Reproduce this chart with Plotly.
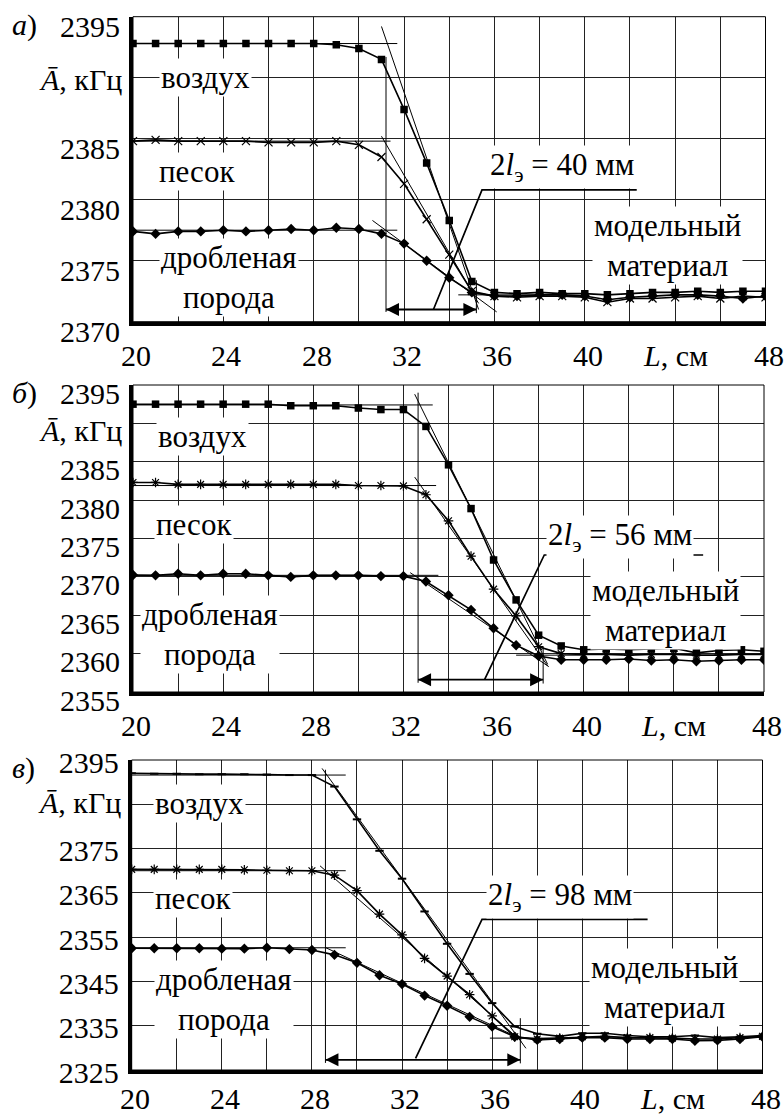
import plotly.graph_objects as go

# ---------------- data ----------------
L_CM = [20, 21, 22, 23, 24, 25, 26, 27, 28, 29, 30, 31, 32, 33, 34,
        35, 36, 37, 38, 39, 40, 41, 42, 43, 44, 45, 46, 47, 48]

# panel a)
A_AIR = [2392.8, 2392.8, 2392.8, 2392.8, 2392.8, 2392.8, 2392.8, 2392.8, 2392.8, 2392.7,
         2392.4, 2391.5, 2387.4, 2383.0, 2378.3, 2373.3, 2372.4, 2372.3, 2372.4, 2372.3,
         2372.3, 2372.2, 2372.3, 2372.4, 2372.4, 2372.5, 2372.4, 2372.5, 2372.5]
A_SAND = [2384.8, 2384.9, 2384.8, 2384.8, 2384.8, 2384.8, 2384.7, 2384.7, 2384.7, 2384.8,
          2384.5, 2383.5, 2381.3, 2378.4, 2375.5, 2372.5, 2372.1, 2372.0, 2372.1, 2372.1,
          2372.0, 2371.6, 2371.9, 2371.9, 2372.0, 2372.1, 2371.9, 2372.1, 2372.0]
A_ROCK = [2377.4, 2377.2, 2377.4, 2377.4, 2377.5, 2377.4, 2377.5, 2377.6, 2377.5, 2377.7,
          2377.6, 2377.2, 2376.4, 2375.0, 2373.6, 2372.4, 2372.1, 2372.1, 2372.2, 2372.2,
          2372.1, 2371.8, 2372.0, 2372.1, 2372.2, 2372.2, 2372.1, 2371.9, 2372.1]

# panel б)
B_AIR = [2392.5, 2392.5, 2392.5, 2392.5, 2392.5, 2392.5, 2392.5, 2392.3, 2392.3, 2392.3,
         2392.0, 2391.8, 2391.8, 2389.6, 2384.6, 2378.9, 2372.2, 2367.0, 2362.4, 2361.0,
         2360.5, 2360.6, 2360.5, 2360.6, 2360.7, 2360.1, 2360.4, 2360.5, 2360.3]
B_SAND = [2382.3, 2382.3, 2382.05, 2382.05, 2382.05, 2382.05, 2382.05, 2382.05, 2382.05, 2382.05,
          2381.9, 2381.9, 2381.85, 2380.7, 2377.3, 2372.7, 2368.4, 2364.9, 2360.9, 2360.0,
          2359.9, 2359.9, 2359.8, 2359.9, 2359.9, 2359.8, 2359.8, 2359.9, 2359.9]
B_ROCK = [2370.25, 2370.2, 2370.4, 2370.2, 2370.4, 2370.4, 2370.2, 2370.0, 2370.2, 2370.2,
          2370.2, 2370.1, 2370.1, 2369.4, 2367.6, 2365.7, 2363.3, 2361.1, 2359.7, 2359.2,
          2359.2, 2359.2, 2359.3, 2359.1, 2359.2, 2359.0, 2359.1, 2359.2, 2359.2]

# panel в)
C_AIR = [2392.0, 2391.9, 2391.9, 2391.8, 2391.8, 2391.8, 2391.7, 2391.6, 2391.6, 2389.0,
         2381.6, 2374.5, 2368.2, 2360.8, 2353.5, 2346.7, 2340.1, 2334.8, 2333.2, 2332.6,
         2333.3, 2333.3, 2332.8, 2332.5, 2332.5, 2332.8, 2332.3, 2332.5, 2332.8]
C_SAND = [2370.3, 2370.3, 2370.3, 2370.3, 2370.3, 2370.2, 2370.1, 2370.0, 2370.0, 2369.0,
          2365.5, 2360.2, 2355.5, 2350.2, 2346.2, 2342.0, 2337.2, 2332.5, 2332.0, 2332.2,
          2332.5, 2332.6, 2332.3, 2332.3, 2332.2, 2332.0, 2332.0, 2332.3, 2332.6]
C_ROCK = [2352.5, 2352.5, 2352.5, 2352.5, 2352.4, 2352.4, 2352.6, 2352.3, 2352.1, 2351.0,
          2349.2, 2346.4, 2344.4, 2341.8, 2339.5, 2337.0, 2334.8, 2332.5, 2331.8, 2332.0,
          2332.3, 2332.3, 2332.0, 2332.0, 2332.0, 2331.6, 2331.7, 2332.0, 2332.5]

# construction lines (tangents, verticals): segments ((x0, y0), (x1, y1))
A_GUIDES = [((20, 2392.8), (31.7, 2392.8)), ((31.0, 2394.2), (35.3, 2371.0)),
            ((20, 2384.8), (31.4, 2384.8)), ((31.0, 2385.2), (35.3, 2371.5)),
            ((20, 2377.5), (31.7, 2377.5)), ((30.6, 2378.3), (36.1, 2370.8)),
            ((34.4, 2372.2), (38.0, 2372.2)),
            ((31.2, 2391.7), (31.2, 2370.8)), ((35.2, 2373.4), (35.2, 2370.7))]
B_GUIDES = [((20, 2392.4), (33.3, 2392.4)), ((32.5, 2393.8), (38.4, 2358.6)),
            ((20, 2381.9), (33.45, 2381.9)), ((32.5, 2383.0), (38.4, 2358.4)),
            ((20, 2370.2), (33.55, 2370.2)), ((32.3, 2370.55), (38.45, 2358.3)),
            ((37.0, 2359.8), (40.0, 2359.8)),
            ((32.65, 2394.0), (32.65, 2356.2)), ((38.2, 2360.9), (38.2, 2356.1))]
C_GUIDES = [((20, 2391.6), (29.5, 2391.6)), ((28.45, 2393.1), (37.5, 2329.9)),
            ((20, 2370.0), (29.5, 2370.0)), ((28.36, 2371.1), (37.3, 2331.5)),
            ((20, 2352.6), (29.5, 2352.6)), ((28.58, 2352.7), (37.3, 2332.0)),
            ((35.9, 2332.2), (40.0, 2332.2)),
            ((28.6, 2392.8), (28.6, 2326.6)), ((37.25, 2336.7), (37.25, 2326.5))]

# leader lines for the "2lэ" label
A_LEADER_X = [33.3, 35.45, 42.3]
A_LEADER_Y = [2371.0, 2380.8, 2380.8]
B_LEADER_X = [35.6, 38.25, 45.3]
B_LEADER_Y = [2356.6, 2372.85, 2372.85]
C_LEADER_X = [32.6, 35.55, 42.9]
C_LEADER_Y = [2327.6, 2359.0, 2359.0]

# double arrows (x_start, x_end, y)
A_ARROW = (31.2, 35.2, 2371.0)
B_ARROW = (32.65, 38.2, 2356.6)
C_ARROW = (28.6, 37.25, 2327.3)

LENGTH_LABELS = ["40 мм", "56 мм", "98 мм"]
MATERIALS = ["воздух", "песок", "дробленая<br>порода"]
MODEL_LABEL = "модельный<br>материал"
PANEL_LETTERS = ["а", "б", "в"]

Y_RANGES = [(2370, 2395), (2355, 2395), (2325, 2395)]
Y_TICKS = [[2370, 2375, 2380, 2385, 2395],
           [2355, 2360, 2365, 2370, 2375, 2380, 2385, 2395],
           [2325, 2335, 2345, 2355, 2365, 2375, 2395]]
Y_UNIT_TICK = [2390, 2390, 2385]
X_TICKS = [20, 24, 28, 32, 36, 40, 44, 48]
X_TICKTEXT = ["20", "24", "28", "32", "36", "40", "<i>L</i>, см", "48"]
X_MINOR = [22, 26, 30, 34, 38, 42, 46]

# ---------------- figure ----------------
FONT = "Liberation Serif"
FS = 30          # tick labels
FS_LABEL = 31    # in-plot labels
W, H = 784, 1117

# pixel layout of the three plot areas: (left, right, top, bottom)
BOXES = [(133, 765.5, 16.7, 321.7), (133, 764, 385, 692), (131.7, 762.5, 760, 1070)]
X_LABEL_DROP = [34, 33, 28.5]     # px from axis line to x tick label centre
Y_LABEL_SHIFT = [10, 8, 2]        # numeric y tick labels sit slightly below their grid line
UNIT_YSHIFT = [-2, -7, 2]

fig = go.Figure()
panels = [
    (A_AIR, A_SAND, A_ROCK, A_GUIDES, A_LEADER_X, A_LEADER_Y, A_ARROW),
    (B_AIR, B_SAND, B_ROCK, B_GUIDES, B_LEADER_X, B_LEADER_Y, B_ARROW),
    (C_AIR, C_SAND, C_ROCK, C_GUIDES, C_LEADER_X, C_LEADER_Y, C_ARROW),
]

sand_symbols = ["x-thin-open", "asterisk-open", "asterisk-open"]
air_marker = [dict(symbol="square", size=7.5, color="black"),
              dict(symbol="square", size=7.5, color="black"),
              dict(symbol="line-ew", size=6, color="black", line=dict(width=2, color="black"))]

# text positions per panel (data coords)
label_pos = [
    [(23.2, 2390.05), (22.85, 2382.3), (24.25, 2373.6), (43.67, 2376.25), (38.98, 2382.65)],
    [(23.07, 2388.3), (22.7, 2376.8), (23.4, 2362.5), (43.65, 2365.6), (41.6, 2375.2)],
    [(23.0, 2385.2), (22.7, 2363.8), (24.1, 2341.0), (43.64, 2343.6), (39.0, 2364.1)],
]

annotations = []
shapes = []
tick_font = dict(family=FONT, size=FS, color="black")
label_font = dict(family=FONT, size=FS_LABEL, color="black")
for i, (air, sand, rock, guides, lx, ly, arrow) in enumerate(panels):
    sfx = "" if i == 0 else str(i + 1)
    xa, ya = "x" + sfx, "y" + sfx
    gx, gy = [], []
    for (p0, p1) in guides:
        gx += [p0[0], p1[0], None]
        gy += [p0[1], p1[1], None]
    fig.add_trace(go.Scatter(x=gx, y=gy, mode="lines", line=dict(color="black", width=1),
                             xaxis=xa, yaxis=ya, showlegend=False, hoverinfo="skip"))
    fig.add_trace(go.Scatter(x=lx, y=ly, mode="lines", line=dict(color="black", width=1.7),
                             xaxis=xa, yaxis=ya, showlegend=False, hoverinfo="skip"))
    # double arrow: line with arrow-head markers (tip at the end points)
    x0, x1, yarr = arrow
    fig.add_trace(go.Scatter(x=[x0, x1], y=[yarr, yarr], mode="lines+markers",
                             line=dict(color="black", width=1.8),
                             marker=dict(symbol=["arrow-left", "arrow-right"], size=13, color="black"),
                             xaxis=xa, yaxis=ya, showlegend=False, hoverinfo="skip"))
    fig.add_trace(go.Scatter(x=L_CM, y=air, mode="lines+markers", name="воздух",
                             line=dict(color="black", width=1.6), marker=air_marker[i],
                             xaxis=xa, yaxis=ya, showlegend=False))
    fig.add_trace(go.Scatter(x=L_CM, y=sand, mode="lines+markers", name="песок",
                             line=dict(color="black", width=1.6),
                             marker=dict(symbol=sand_symbols[i], size=8, color="black",
                                         line=dict(width=1.2, color="black")),
                             xaxis=xa, yaxis=ya, showlegend=False))
    fig.add_trace(go.Scatter(x=L_CM, y=rock, mode="lines+markers", name="дробленая порода",
                             line=dict(color="black", width=1.6),
                             marker=dict(symbol="diamond", size=8, color="black"),
                             xaxis=xa, yaxis=ya, showlegend=False))

    left, right, top, bottom = BOXES[i]
    xdom = [left / W, right / W]
    ydom = [1 - bottom / H, 1 - top / H]
    fig.layout["xaxis" + sfx] = dict(
        domain=xdom, range=[20, 48], anchor=ya, tickvals=X_TICKS, showticklabels=False,
        showgrid=True, gridcolor="#222", gridwidth=1, zeroline=False,
        minor=dict(tickvals=X_MINOR, showgrid=True, gridcolor="#222", gridwidth=1, ticks=""),
        showline=True, linecolor="black", linewidth=4, ticks="", automargin=False,
        fixedrange=True)
    fig.layout["yaxis" + sfx] = dict(
        domain=ydom, range=list(Y_RANGES[i]), anchor=xa, tickvals=Y_TICKS[i],
        ticktext=[str(v) for v in Y_TICKS[i]],
        showgrid=True, gridcolor="#222", gridwidth=1, zeroline=False,
        minor=dict(tickvals=[Y_UNIT_TICK[i]], showgrid=True, gridcolor="#222", gridwidth=1, ticks=""),
        showline=True, linecolor="black", linewidth=4, ticks="", automargin=False,
        tickfont=tick_font, ticklabelstandoff=3, ticklabelshift=Y_LABEL_SHIFT[i],
        fixedrange=True)

    shapes.append(dict(type="rect", xref=xa + " domain", yref=ya + " domain", x0=0, x1=1, y0=0, y1=1,
                       line=dict(color="black", width=1), layer="above"))

    # x tick labels
    for v, t in zip(X_TICKS, X_TICKTEXT):
        annotations.append(dict(xref=xa, yref=ya + " domain", x=v, y=0, yanchor="middle",
                                xanchor="center", yshift=-X_LABEL_DROP[i],
                                xshift=3 if t[0].isdigit() else 0,
                                text=t, showarrow=False, font=tick_font))
    # unit label on y axis
    annotations.append(dict(xref=xa + " domain", yref=ya, x=0, y=Y_UNIT_TICK[i], xanchor="right",
                            xshift=-9, yshift=UNIT_YSHIFT[i], text="<i>Ā</i>, кГц", showarrow=False,
                            font=tick_font))
    # panel letter
    annotations.append(dict(xref="paper", yref="paper", x=10 / W, y=1 - (top + 8) / H,
                            xanchor="left", yanchor="middle", text="<i>%s</i>)" % PANEL_LETTERS[i],
                            showarrow=False, font=tick_font))
    pos = label_pos[i]
    for k, name in enumerate(MATERIALS):
        annotations.append(dict(xref=xa, yref=ya, x=pos[k][0], y=pos[k][1], text=name,
                                showarrow=False, bgcolor="white", borderpad=1, font=label_font))
    annotations.append(dict(xref=xa, yref=ya, x=pos[3][0], y=pos[3][1], text=MODEL_LABEL,
                            showarrow=False, bgcolor="white", borderpad=1, font=label_font))
    annotations.append(dict(xref=xa, yref=ya, x=pos[4][0], y=pos[4][1],
                            text="2<i>l</i><sub>э</sub> = " + LENGTH_LABELS[i],
                            showarrow=False, bgcolor="white", borderpad=1, font=label_font))

fig.update_layout(width=W, height=H, margin=dict(l=0, r=0, t=0, b=0, pad=0, autoexpand=False),
                  plot_bgcolor="white", paper_bgcolor="white",
                  annotations=annotations, shapes=shapes,
                  font=dict(family=FONT, size=FS, color="black"))

# remove the default page margin so the 784x1117 figure fills the window exactly
fig.write_html("out.html", config={"displayModeBar": False},
               post_script="document.body.style.margin='0';document.body.style.overflow='hidden';")
